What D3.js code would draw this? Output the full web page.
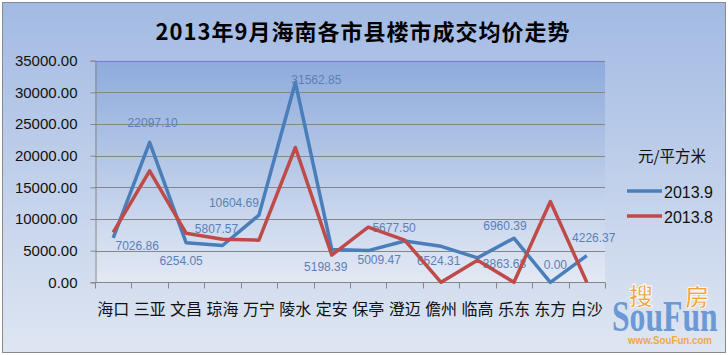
<!DOCTYPE html>
<html>
<head>
<meta charset="utf-8">
<script src="https://cdn.jsdelivr.net/npm/d3@7"></script>
<style>
  html, body { margin: 0; padding: 0; background: #fff; }
  svg { display: block; }
</style>
</head>
<body>
<div id="chart"></div>
<script>
// ---- data ----
const titleText = "2013年9月海南各市县楼市成交均价走势";
const unitText = "元/平方米";
const categories = ["海口","三亚","文昌","琼海","万宁","陵水","定安","保亭","澄迈","儋州","临高","乐东","东方","白沙"];
const seriesNames = ["2013.9", "2013.8"];
const sep2013 = [7026.86, 22097.10, 6254.05, 5807.57, 10604.69, 31562.85, 5198.39, 5009.47, 6524.31, 5677.50, 3863.68, 6960.39, 0.00, 4226.37];
const aug2013 = [7900, 17600, 7750, 6800, 6650, 21300, 4300, 8700, 6650, 0, 3500, 0, 12750, 0];
const yTicks = [0, 5000, 10000, 15000, 20000, 25000, 30000, 35000];
// label nudges (dx, dy in px) relative to each point, reproducing the reference label placement
const labelNudge = [[24,8],[3,-20],[-5,18],[-6,-17],[-25,-12],[21,-3],[-6,17],[11,9],[34,20],[-47,-19],[27,6],[-9,-12],[5,-18],[7,-18]];

// ---- layout ----
const W = 728, H = 355;
const plot = {left: 95, right: 605, top: 60.7, bottom: 282.3};
const colors = {blue: "#4a7ebb", red: "#be4b48", label: "#5a80b8", grid: "#868686"};

const svg = d3.select("#chart").append("svg").attr("width", W).attr("height", H);
const defs = svg.append("defs");
const og = defs.append("linearGradient").attr("id","outerGrad").attr("x1",0).attr("y1",0).attr("x2",0).attr("y2",1);
og.append("stop").attr("offset","0%").attr("stop-color","#a2bae3");
og.append("stop").attr("offset","100%").attr("stop-color","#dfe6f2");
const pg = defs.append("linearGradient").attr("id","plotGrad").attr("x1",0).attr("y1",0).attr("x2",0).attr("y2",1);
pg.append("stop").attr("offset","0%").attr("stop-color","#8eabdc");
pg.append("stop").attr("offset","100%").attr("stop-color","#e3e9f4");

svg.append("rect").attr("x",2.5).attr("y",2.5).attr("width",723).attr("height",350)
  .attr("fill","url(#outerGrad)").attr("stroke","#8a8a8a").attr("stroke-width",1);

const x = d3.scaleBand().domain(categories).range([plot.left, plot.right]).padding(0);
const y = d3.scaleLinear().domain([0, 35000]).range([plot.bottom, plot.top]);
const px = c => x(c) + x.bandwidth()/2;

svg.append("rect").attr("x",plot.left).attr("y",plot.top)
  .attr("width",plot.right-plot.left).attr("height",plot.bottom-plot.top)
  .attr("fill","url(#plotGrad)");

// gridlines
svg.append("g").selectAll("line").data(yTicks.filter(d=>d>0)).join("line")
  .attr("x1",plot.left).attr("x2",plot.right)
  .attr("y1",d=>Math.round(y(d))+0.5).attr("y2",d=>Math.round(y(d))+0.5)
  .attr("stroke",colors.grid).attr("stroke-width",1);

// y axis
const yAxis = svg.append("g").attr("transform",`translate(${plot.left+0.5},0)`)
  .call(d3.axisLeft(y).tickValues(yTicks).tickFormat(d3.format(".2f")).tickSize(5).tickPadding(13));
yAxis.select(".domain").attr("stroke",colors.grid);
yAxis.selectAll(".tick line").attr("stroke",colors.grid);
yAxis.selectAll(".tick text").attr("font-family","'Liberation Sans', Arial, sans-serif")
  .attr("font-size",15).attr("fill","#111");

// x axis
const xAxisY = Math.round(plot.bottom)+0.5;
const xg = svg.append("g");
xg.append("line").attr("x1",plot.left).attr("x2",plot.right).attr("y1",xAxisY).attr("y2",xAxisY).attr("stroke",colors.grid);
const bounds = categories.map(c => x(c)).concat([plot.right]);
xg.selectAll("line.tk").data(bounds).join("line").attr("class","tk")
  .attr("x1",d=>Math.round(d)+0.5).attr("x2",d=>Math.round(d)+0.5)
  .attr("y1",xAxisY).attr("y2",xAxisY+6).attr("stroke",colors.grid);
xg.selectAll("text").data(categories).join("text")
  .attr("x",d=>px(d)).attr("y",315).attr("text-anchor","middle")
  .attr("font-family","'Noto Sans CJK SC', sans-serif").attr("font-size",16).attr("fill","#111")
  .text(d=>d);

// lines
const line = d3.line().x((d,i)=>px(categories[i])).y(d=>y(d));
svg.append("path").datum(sep2013).attr("d",line).attr("fill","none")
  .attr("stroke",colors.blue).attr("stroke-width",3.5).attr("stroke-linejoin","round");

// data labels for 2013.9
svg.append("g").selectAll("text").data(sep2013).join("text")
  .attr("x",(d,i)=>px(categories[i]) + labelNudge[i][0])
  .attr("y",(d,i)=>y(d) + labelNudge[i][1])
  .attr("dy","0.35em").attr("text-anchor","middle")
  .attr("font-family","'Liberation Sans', Arial, sans-serif").attr("font-size",12)
  .attr("fill",colors.label)
  .text(d=>d3.format(".2f")(d));

svg.append("path").datum(aug2013).attr("d",line).attr("fill","none")
  .attr("stroke",colors.red).attr("stroke-width",3.5).attr("stroke-linejoin","round");

// title
svg.append("text").attr("x",363).attr("y",40).attr("text-anchor","middle")
  .attr("font-family","'Noto Sans CJK SC', sans-serif").attr("font-weight","bold")
  .attr("font-size",22).attr("letter-spacing",1).attr("fill","#000").text(titleText);

// legend
svg.append("text").attr("x",672).attr("y",162).attr("text-anchor","middle")
  .attr("font-family","'Noto Sans CJK SC', sans-serif").attr("font-size",15.5).attr("fill","#111")
  .text(unitText);
const legColors = [colors.blue, colors.red];
const leg = svg.append("g").selectAll("g").data(seriesNames).join("g")
  .attr("transform",(d,i)=>`translate(627,${191 + i*25})`);
leg.append("line").attr("x1",0).attr("x2",35).attr("y1",0).attr("y2",0)
  .attr("stroke",(d,i)=>legColors[i]).attr("stroke-width",3.5);
leg.append("text").attr("x",37).attr("y",3).attr("dy","0.25em")
  .attr("font-family","'Liberation Sans', Arial, sans-serif").attr("font-size",16).attr("fill","#111")
  .text(d=>d);

// watermark logo
const logo = svg.append("g");
logo.append("g").attr("transform","translate(612,331) scale(0.72,1)")
  .append("text").attr("x",0).attr("y",0)
  .attr("font-family","'Liberation Serif', serif").attr("font-weight","bold").attr("font-size",44)
  .attr("fill","#5d8fd0").attr("fill-opacity",0.9).text("SouFun");
logo.append("text").attr("x",641).attr("y",305).attr("text-anchor","middle")
  .attr("font-family","'Noto Sans CJK SC', sans-serif").attr("font-weight","bold").attr("font-size",24)
  .attr("fill","#f2a43a").attr("stroke","#fff").attr("stroke-width",0.8).text("搜");
logo.append("text").attr("x",697).attr("y",306).attr("text-anchor","middle")
  .attr("font-family","'Noto Sans CJK SC', sans-serif").attr("font-weight","bold").attr("font-size",24)
  .attr("fill","#f2a43a").attr("stroke","#fff").attr("stroke-width",0.8).text("房");
logo.append("text").attr("x",628).attr("y",344)
  .attr("font-family","'Liberation Sans', Arial, sans-serif").attr("font-weight","bold").attr("font-size",11)
  .attr("textLength",84).attr("lengthAdjust","spacingAndGlyphs")
  .attr("fill","#f0a848").text("www.SouFun.com");
</script>
</body>
</html>
